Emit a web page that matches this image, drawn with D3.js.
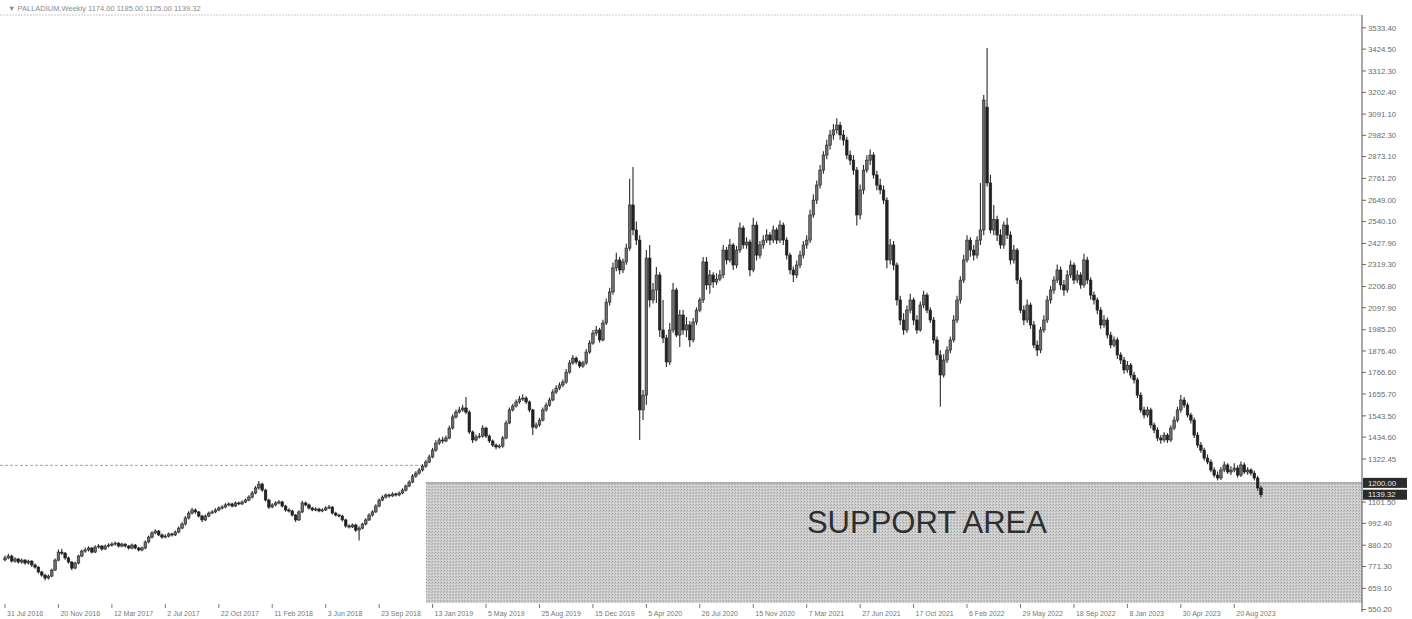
<!DOCTYPE html>
<html lang="en">
<head>
    <meta charset="UTF-8">
    <script src="https://d3js.org/d3.v7.min.js"></script>
    <title>Palladium Weekly</title>
    <style>
        body { margin: 0; background: #fff; }
        svg { display: block; font-family: "Liberation Sans", Arial, sans-serif; }
    </style>
</head>
<body>
    <svg width="1412" height="619"></svg>

    <script>
        // weekly bars, first one is the week of 31 Jul 2016
        var firstWeek = "2016-07-31";

        // [open, high, low, close]
        var candles = [
            [805,828,798,815],[815,836,808,825],[825,832,792,799],[799,818,790,810],[810,815,786,794],
            [794,812,785,804],[804,810,780,789],[789,806,782,799],[799,803,770,779],[779,786,760,768],
            [768,772,735,743],[743,750,718,727],[727,734,700,712],[712,730,705,722],[722,760,716,753],
            [753,812,748,804],[804,858,798,845],[845,862,830,840],[840,846,806,815],[815,822,786,794],
            [794,800,752,763],[763,796,757,789],[789,832,782,825],[825,858,818,850],[850,868,842,856],
            [856,875,848,866],[866,870,838,845],[845,880,840,871],[871,886,864,876],[876,882,852,861],
            [861,884,856,876],[876,890,868,881],[881,895,873,886],[886,900,878,891],[891,896,868,876],
            [876,893,870,886],[886,890,868,876],[876,882,858,866],[866,889,860,881],[881,886,859,866],
            [866,871,848,856],[856,874,850,866],[866,905,860,897],[897,930,890,922],[922,952,915,943],
            [943,962,936,953],[953,958,926,933],[933,940,914,922],[922,936,916,927],[927,946,920,938],
            [938,944,925,933],[933,956,928,948],[948,976,942,968],[968,998,962,989],[989,1030,982,1020],
            [1020,1054,1012,1045],[1045,1072,1038,1061],[1061,1068,1042,1051],[1051,1056,1022,1030],[1030,1036,1000,1010],
            [1010,1038,1004,1030],[1030,1053,1024,1045],[1045,1060,1040,1051],[1051,1070,1044,1061],[1061,1080,1055,1071],
            [1071,1085,1064,1076],[1076,1096,1070,1087],[1087,1101,1080,1092],[1092,1098,1074,1081],[1081,1105,1076,1097],
            [1097,1104,1085,1092],[1092,1110,1087,1102],[1102,1120,1096,1112],[1112,1136,1106,1127],[1127,1158,1120,1148],
            [1148,1184,1142,1174],[1174,1210,1166,1194],[1194,1200,1155,1163],[1163,1170,1104,1112],[1112,1118,1066,1076],
            [1076,1096,1070,1087],[1087,1106,1080,1097],[1097,1112,1090,1102],[1102,1108,1074,1081],[1081,1088,1052,1061],
            [1061,1070,1048,1056],[1056,1062,1028,1035],[1035,1040,1000,1010],[1010,1060,1004,1051],[1051,1108,1046,1097],
            [1097,1104,1080,1087],[1087,1094,1064,1071],[1071,1078,1054,1061],[1061,1075,1055,1066],[1066,1072,1049,1056],
            [1056,1070,1050,1061],[1061,1080,1056,1071],[1071,1086,1066,1076],[1076,1082,1038,1045],[1045,1052,1028,1035],
            [1035,1042,1022,1030],[1030,1036,1002,1010],[1010,1016,970,979],[979,988,966,974],[974,992,968,984],
            [984,990,948,958],[958,978,905,968],[968,996,962,989],[989,1018,982,1010],[1010,1044,1004,1035],
            [1035,1060,1028,1051],[1051,1090,1046,1081],[1081,1120,1075,1112],[1112,1136,1106,1127],[1127,1146,1120,1138],
            [1138,1144,1124,1133],[1133,1152,1128,1143],[1143,1150,1130,1138],[1138,1156,1132,1148],[1148,1172,1142,1163],
            [1163,1192,1156,1184],[1184,1214,1178,1204],[1204,1245,1198,1235],[1235,1260,1226,1250],[1250,1276,1242,1266],
            [1266,1296,1258,1286],[1286,1318,1278,1307],[1307,1345,1300,1333],[1333,1380,1326,1368],[1368,1418,1360,1404],
            [1404,1432,1394,1420],[1420,1436,1402,1415],[1415,1442,1408,1430],[1430,1494,1424,1481],[1481,1552,1474,1538],
            [1538,1576,1530,1563],[1563,1590,1556,1574],[1574,1600,1565,1584],[1584,1640,1552,1563],[1563,1572,1450,1461],
            [1461,1468,1404,1420],[1420,1448,1412,1435],[1435,1456,1428,1440],[1440,1495,1432,1481],[1481,1488,1430,1440],
            [1440,1448,1405,1415],[1415,1422,1384,1394],[1394,1402,1372,1384],[1384,1398,1376,1389],[1389,1440,1380,1430],
            [1430,1520,1424,1507],[1507,1586,1500,1574],[1574,1606,1566,1594],[1594,1628,1586,1615],[1615,1645,1606,1630],
            [1630,1655,1620,1635],[1635,1644,1604,1615],[1615,1622,1562,1574],[1574,1580,1446,1486],[1486,1510,1476,1497],
            [1497,1534,1488,1522],[1522,1586,1515,1574],[1574,1612,1565,1599],[1599,1638,1590,1625],[1625,1680,1618,1666],
            [1666,1700,1656,1686],[1686,1715,1676,1702],[1702,1730,1692,1717],[1717,1784,1708,1768],[1768,1830,1760,1815],
            [1815,1856,1806,1840],[1840,1848,1808,1820],[1820,1828,1788,1799],[1799,1826,1790,1815],[1815,1886,1806,1871],
            [1871,1932,1862,1917],[1917,1984,1908,1968],[1968,2004,1955,1984],[1984,1996,1920,1933],[1933,2036,1925,2020],
            [2020,2146,2010,2127],[2127,2200,2110,2179],[2179,2330,2165,2302],[2302,2380,2285,2343],[2343,2360,2270,2292],
            [2292,2350,2276,2333],[2333,2426,2318,2404],[2404,2760,2390,2625],[2625,2820,2470,2497],[2497,2540,2420,2445],
            [2445,2470,1420,1574],[1574,1676,1522,1650],[1650,2394,1600,2353],[2353,2420,2100,2138],[2138,2225,2120,2189],
            [2189,2307,2122,2266],[2266,2280,1948,1984],[1984,2138,1917,1943],[1943,1960,1794,1820],[1820,2020,1805,1984],
            [1984,2225,1970,2189],[2189,2200,1948,1958],[1958,2086,1897,2061],[2061,2086,1960,1984],[1984,2050,1948,2010],
            [2010,2030,1897,1933],[1933,2045,1920,2025],[2025,2100,2010,2086],[2086,2150,2075,2138],[2138,2358,2122,2333],
            [2333,2358,2190,2215],[2215,2292,2170,2266],[2266,2280,2200,2230],[2230,2275,2215,2245],[2245,2292,2235,2266],
            [2266,2420,2250,2394],[2394,2410,2320,2343],[2343,2450,2330,2420],[2420,2430,2292,2317],[2317,2415,2300,2394],
            [2394,2535,2380,2507],[2507,2520,2400,2420],[2420,2460,2400,2435],[2435,2448,2260,2292],[2292,2560,2280,2522],
            [2522,2540,2340,2368],[2368,2440,2350,2420],[2420,2470,2400,2445],[2445,2500,2430,2471],[2471,2485,2420,2445],
            [2445,2520,2430,2497],[2497,2510,2425,2445],[2445,2545,2430,2522],[2522,2535,2420,2445],[2445,2460,2345,2368],
            [2368,2380,2270,2292],[2292,2310,2230,2266],[2266,2340,2250,2317],[2317,2390,2300,2368],[2368,2440,2350,2420],
            [2420,2470,2400,2445],[2445,2600,2430,2574],[2574,2680,2560,2650],[2650,2750,2630,2727],[2727,2830,2710,2804],
            [2804,2900,2785,2881],[2881,2960,2860,2932],[2932,3010,2910,2984],[2984,3040,2960,3010],[3010,3070,2990,3035],
            [3035,3050,2960,2984],[2984,3010,2930,2958],[2958,2975,2860,2881],[2881,2905,2830,2855],[2855,2880,2780,2804],
            [2804,2820,2520,2574],[2574,2730,2550,2702],[2702,2830,2680,2804],[2804,2880,2790,2855],[2855,2910,2830,2881],
            [2881,2895,2760,2779],[2779,2800,2700,2727],[2727,2760,2680,2702],[2702,2725,2630,2650],[2650,2665,2300,2343],
            [2343,2450,2320,2420],[2420,2440,2290,2317],[2317,2330,2110,2138],[2138,2160,2010,2035],[2035,2070,1960,1984],
            [1984,2110,1970,2086],[2086,2170,2070,2138],[2138,2150,2010,2035],[2035,2060,1965,1984],[1984,2130,1975,2112],
            [2112,2185,2095,2163],[2163,2175,2070,2086],[2086,2100,2020,2035],[2035,2050,1915,1933],[1933,1950,1830,1856],
            [1856,1880,1590,1753],[1753,1860,1740,1830],[1830,1900,1815,1881],[1881,1950,1865,1933],[1933,2060,1920,2035],
            [2035,2160,2020,2138],[2138,2260,2120,2240],[2240,2370,2225,2343],[2343,2470,2330,2445],[2445,2460,2360,2394],
            [2394,2420,2340,2368],[2368,2465,2350,2445],[2445,2738,2420,2497],[2497,3189,2470,3163],[3127,3430,2720,2738],
            [2738,2780,2480,2497],[2497,2625,2470,2550],[2550,2570,2440,2471],[2471,2500,2400,2420],[2420,2540,2400,2522],
            [2522,2560,2450,2471],[2471,2490,2320,2343],[2343,2420,2325,2394],[2394,2405,2220,2240],[2240,2255,2070,2086],
            [2086,2110,2010,2035],[2035,2140,2020,2112],[2112,2125,1990,2010],[2010,2030,1890,1907],[1907,1930,1850,1881],
            [1881,2000,1865,1984],[1984,2060,1970,2035],[2035,2160,2020,2138],[2138,2210,2120,2189],[2189,2260,2170,2240],
            [2240,2320,2225,2292],[2292,2310,2190,2215],[2215,2240,2160,2189],[2189,2290,2175,2266],[2266,2340,2250,2317],
            [2317,2330,2220,2240],[2240,2290,2225,2266],[2266,2280,2195,2215],[2215,2375,2200,2343],[2343,2360,2220,2240],
            [2240,2255,2140,2163],[2163,2180,2115,2138],[2138,2150,2065,2086],[2086,2100,1990,2010],[2010,2060,1995,2035],
            [2035,2048,1940,1958],[1958,1975,1890,1907],[1907,1950,1895,1933],[1933,1945,1835,1856],[1856,1870,1810,1830],
            [1830,1845,1760,1779],[1779,1825,1765,1804],[1804,1815,1735,1753],[1753,1770,1710,1728],[1728,1740,1635,1650],
            [1650,1665,1560,1574],[1574,1590,1530,1548],[1548,1590,1535,1574],[1574,1585,1480,1497],[1497,1510,1455,1471],
            [1471,1485,1415,1430],[1430,1445,1400,1420],[1420,1460,1408,1445],[1445,1455,1405,1420],[1420,1495,1410,1481],
            [1481,1540,1470,1522],[1522,1590,1510,1574],[1574,1650,1560,1625],[1625,1640,1585,1599],[1599,1612,1535,1548],
            [1548,1560,1505,1522],[1522,1535,1430,1445],[1445,1460,1380,1394],[1394,1410,1355,1368],[1368,1380,1315,1327],
            [1327,1345,1295,1307],[1307,1320,1255,1266],[1266,1280,1228,1240],[1240,1258,1212,1225],[1225,1282,1215,1266],
            [1266,1310,1255,1292],[1292,1300,1245,1256],[1256,1285,1240,1266],[1266,1300,1255,1276],[1276,1290,1228,1240],
            [1240,1310,1230,1292],[1292,1305,1245,1256],[1256,1280,1242,1266],[1266,1275,1238,1250],[1250,1262,1212,1225],
            [1225,1236,1160,1174],[1174,1185,1125,1139.32]
        ];

        var priceTicks = ["3533.40","3424.50","3312.30","3202.40","3091.10","2982.30","2873.10","2761.20","2649.00",
            "2540.10","2427.90","2319.30","2206.80","2097.90","1985.20","1876.40","1766.60","1655.70","1543.50",
            "1434.60","1322.45","1101.50","992.40","880.20","771.30","659.10","550.20"];

        var dateTicks = ["31 Jul 2016","20 Nov 2016","12 Mar 2017","2 Jul 2017","22 Oct 2017","11 Feb 2018",
            "3 Jun 2018","23 Sep 2018","13 Jan 2019","5 May 2019","25 Aug 2019","15 Dec 2019","5 Apr 2020",
            "26 Jul 2020","15 Nov 2020","7 Mar 2021","27 Jun 2021","17 Oct 2021","6 Feb 2022","29 May 2022",
            "18 Sep 2022","8 Jan 2023","30 Apr 2023","20 Aug 2023"];

        var supportTop = 1200;
        var supportBottom = 584;
        var supportStart = "30 Dec 2018";
        var levelLine = 1290;
        var lastPrice = 1139.32;
        var header = "\u25BC PALLADIUM,Weekly  1174.00 1185.00 1125.00 1139.32";
        var annotation = "SUPPORT AREA";
        var annotationAt = ["14 Nov 2021", 944];

        var svg = d3.select('svg');
        var plotTop = 17, plotBottom = 603, plotLeft = 0, axisX = 1362;

        var parseWeek = d3.timeParse("%Y-%m-%d");
        var parseTick = d3.timeParse("%d %b %Y");
        var start = parseWeek(firstWeek);
        var dates = candles.map((d, i) => d3.timeWeek.offset(start, i));

        var xScale = d3.scaleTime()
            .domain([dates[0], dates[dates.length - 1]])
            .range([5, 1261]);
        var yScale = d3.scaleLinear().domain([584, 3589]).range([plotBottom, plotTop]);

        // dither pattern for the scanned grey box
        var defs = svg.append('defs');
        var pat = defs.append('pattern')
            .attr('id', 'dots')
            .attr('width', 3).attr('height', 3)
            .attr('patternUnits', 'userSpaceOnUse');
        pat.append('rect').attr('width', 3).attr('height', 3).attr('fill', '#cdcdcd');
        pat.append('rect').attr('x', 0).attr('y', 0).attr('width', 1).attr('height', 1).attr('fill', '#a3a3a3');
        pat.append('rect').attr('x', 2).attr('y', 1).attr('width', 1).attr('height', 1).attr('fill', '#b3b3b3');
        pat.append('rect').attr('x', 1).attr('y', 2).attr('width', 1).attr('height', 1).attr('fill', '#e0e0e0');

        // frame
        svg.append('line')
            .attr('x1', 0).attr('x2', axisX)
            .attr('y1', plotTop - 2).attr('y2', plotTop - 2)
            .attr('stroke', '#c8c8c8').attr('stroke-dasharray', '2,1');

        // support area
        var sx = xScale(parseTick(supportStart));
        svg.append('rect')
            .attr('x', sx)
            .attr('y', yScale(supportTop))
            .attr('width', axisX - sx)
            .attr('height', yScale(supportBottom) - yScale(supportTop))
            .attr('fill', 'url(#dots)');
        svg.append('line')
            .attr('x1', sx).attr('x2', axisX)
            .attr('y1', yScale(supportTop)).attr('y2', yScale(supportTop))
            .attr('stroke', '#8a8a8a').attr('stroke-width', 1);
        svg.append('line')
            .attr('x1', plotLeft).attr('x2', sx)
            .attr('y1', yScale(levelLine)).attr('y2', yScale(levelLine))
            .attr('stroke', '#a0a0a0').attr('stroke-dasharray', '3,2');

        svg.append('text')
            .attr('x', xScale(parseTick(annotationAt[0])))
            .attr('y', yScale(annotationAt[1]))
            .attr('text-anchor', 'middle')
            .attr('font-size', 31)
            .attr('fill', '#2e2e2e')
            .text(annotation);

        // candles
        var g = svg.append('g');
        var bw = 2.6;

        g.selectAll('.wick')
            .data(candles)
            .enter().append('line')
            .attr('class', 'wick')
            .attr('x1', (d, i) => xScale(dates[i]))
            .attr('x2', (d, i) => xScale(dates[i]))
            .attr('y1', d => yScale(d[1]))
            .attr('y2', d => yScale(d[2]))
            .attr('stroke', '#2a2a2a')
            .attr('stroke-width', 1.1);

        g.selectAll('.body')
            .data(candles)
            .enter().append('rect')
            .attr('class', 'body')
            .attr('x', (d, i) => xScale(dates[i]) - bw / 2)
            .attr('y', d => yScale(Math.max(d[0], d[3])))
            .attr('width', bw)
            .attr('height', d => Math.max(1, Math.abs(yScale(d[0]) - yScale(d[3]))))
            .attr('fill', d => d[3] >= d[0] ? '#6e6e6e' : '#222')
            .attr('stroke', '#222')
            .attr('stroke-width', 0.6);

        // price axis
        svg.append('line')
            .attr('x1', axisX).attr('x2', axisX)
            .attr('y1', plotTop - 2).attr('y2', 612)
            .attr('stroke', '#555');

        var pt = svg.append('g').attr('id', 'y-axis');
        pt.selectAll('line')
            .data(priceTicks)
            .enter().append('line')
            .attr('x1', axisX).attr('x2', axisX + 4)
            .attr('y1', d => yScale(+d)).attr('y2', d => yScale(+d))
            .attr('stroke', '#666');
        pt.selectAll('text')
            .data(priceTicks)
            .enter().append('text')
            .attr('x', axisX + 6)
            .attr('y', d => yScale(+d))
            .attr('dy', '0.35em')
            .attr('font-size', 7.8)
            .attr('fill', '#6a6a6a')
            .text(d => d);

        // price boxes
        [[supportTop, d3.format('.2f')(supportTop)], [lastPrice, d3.format('.2f')(lastPrice)]].forEach(function(b) {
            svg.append('rect')
                .attr('x', axisX + 1)
                .attr('y', yScale(b[0]) - 5)
                .attr('width', 44).attr('height', 10)
                .attr('fill', '#2b2b2b');
            svg.append('text')
                .attr('x', axisX + 6)
                .attr('y', yScale(b[0]))
                .attr('dy', '0.35em')
                .attr('font-size', 7.8)
                .attr('fill', '#e8e8e8')
                .text(b[1]);
        });

        // time axis
        var xt = svg.append('g').attr('id', 'x-axis');
        xt.selectAll('line')
            .data(dateTicks)
            .enter().append('line')
            .attr('x1', d => xScale(parseTick(d))).attr('x2', d => xScale(parseTick(d)))
            .attr('y1', plotBottom + 1).attr('y2', plotBottom + 5)
            .attr('stroke', '#777');
        xt.selectAll('text')
            .data(dateTicks)
            .enter().append('text')
            .attr('x', d => xScale(parseTick(d)) + 2)
            .attr('y', 616)
            .attr('font-size', 7)
            .attr('fill', '#777')
            .text(d => d);

        // header
        svg.append('text')
            .attr('x', 8).attr('y', 11)
            .attr('font-size', 7.5)
            .attr('fill', '#8a8a8a')
            .text(header);
    </script>
</body>
</html>
